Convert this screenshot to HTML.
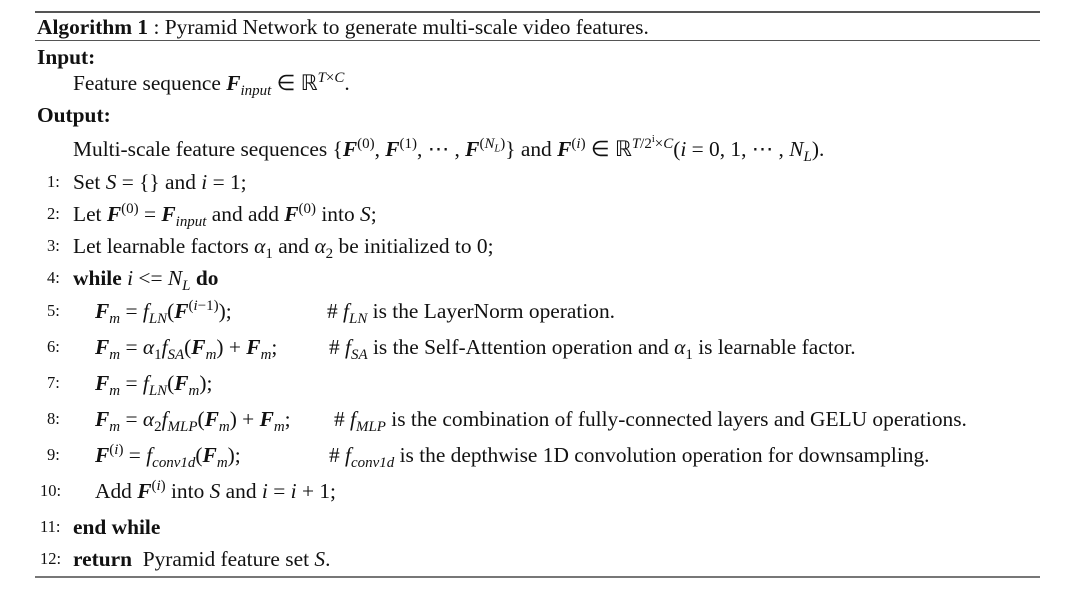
<!DOCTYPE html>
<html><head><meta charset="utf-8"><style>
body{margin:0;width:1080px;height:597px;background:#fff;position:relative;font-family:"Liberation Serif",serif;color:#111;overflow:hidden}
.l{position:absolute;white-space:nowrap;font-size:21.4px;line-height:24px}
.n{position:absolute;font-size:16.5px;line-height:24px;white-space:nowrap}
.hr{position:absolute;left:35px;width:1005px;background:#555}
b{font-weight:bold}
i{font-style:italic}
.F{font-weight:bold;font-style:italic}
sub{font-size:70%;vertical-align:-0.35em;line-height:0}
sup{font-size:70%;vertical-align:0.55em;line-height:0}
</style></head><body>
<div class="hr" style="top:11px;height:2px"></div>
<div class="hr" style="top:40px;height:1px"></div>
<div class="hr" style="top:576px;height:2px;background:#777"></div>
<div class="l" style="left:37px;top:15px"><b>Algorithm 1</b> : Pyramid Network to generate multi-scale video features.</div>
<div class="l" style="left:37px;top:45px"><b>Input:</b></div>
<div class="l" style="left:73px;top:71px">Feature sequence <span class="F">F</span><sub><i>input</i></sub> ∈ ℝ<sup><i>T</i>×<i>C</i></sup>.</div>
<div class="l" style="left:37px;top:103px"><b>Output:</b></div>
<div class="l" style="left:73px;top:137px">Multi-scale feature sequences {<span class="F">F</span><sup>(0)</sup>, <span class="F">F</span><sup>(1)</sup>, ⋯ , <span class="F">F</span><sup>(<i>N<sub>L</sub></i>)</sup>} and <span class="F">F</span><sup>(<i>i</i>)</sup> ∈ ℝ<sup><i>T</i>/2<sup>i</sup>×<i>C</i></sup>(<i>i</i> = 0, 1, ⋯ , <i>N<sub>L</sub></i>).</div>

<div class="n" style="left:47px;top:170px">1:</div><div class="l" style="left:73px;top:170px">Set <i>S</i> = {} and <i>i</i> = 1;</div>
<div class="n" style="left:47px;top:202px">2:</div><div class="l" style="left:73px;top:202px">Let <span class="F">F</span><sup>(0)</sup> = <span class="F">F</span><sub><i>input</i></sub> and add <span class="F">F</span><sup>(0)</sup> into <i>S</i>;</div>
<div class="n" style="left:47px;top:234px">3:</div><div class="l" style="left:73px;top:234px">Let learnable factors <i>α</i><sub>1</sub> and <i>α</i><sub>2</sub> be initialized to 0;</div>
<div class="n" style="left:47px;top:266px">4:</div><div class="l" style="left:73px;top:266px"><b>while</b> <i>i</i> &lt;= <i>N<sub>L</sub></i> <b>do</b></div>

<div class="n" style="left:47px;top:299px">5:</div><div class="l" style="left:95px;top:299px"><span class="F">F</span><sub><i>m</i></sub> = <i>f<sub>LN</sub></i>(<span class="F">F</span><sup>(<i>i</i>−1)</sup>);</div>
<div class="l" style="left:327px;top:299px"># <i>f<sub>LN</sub></i> is the LayerNorm operation.</div>
<div class="n" style="left:47px;top:335px">6:</div><div class="l" style="left:95px;top:335px"><span class="F">F</span><sub><i>m</i></sub> = <i>α</i><sub>1</sub><i>f<sub>SA</sub></i>(<span class="F">F</span><sub><i>m</i></sub>) + <span class="F">F</span><sub><i>m</i></sub>;</div>
<div class="l" style="left:329px;top:335px"># <i>f<sub>SA</sub></i> is the Self-Attention operation and <i>α</i><sub>1</sub> is learnable factor.</div>
<div class="n" style="left:47px;top:371px">7:</div><div class="l" style="left:95px;top:371px"><span class="F">F</span><sub><i>m</i></sub> = <i>f<sub>LN</sub></i>(<span class="F">F</span><sub><i>m</i></sub>);</div>
<div class="n" style="left:47px;top:407px">8:</div><div class="l" style="left:95px;top:407px"><span class="F">F</span><sub><i>m</i></sub> = <i>α</i><sub>2</sub><i>f<sub>MLP</sub></i>(<span class="F">F</span><sub><i>m</i></sub>) + <span class="F">F</span><sub><i>m</i></sub>;</div>
<div class="l" style="left:334px;top:407px"># <i>f<sub>MLP</sub></i> is the combination of fully-connected layers and GELU operations.</div>
<div class="n" style="left:47px;top:443px">9:</div><div class="l" style="left:95px;top:443px"><span class="F">F</span><sup>(<i>i</i>)</sup> = <i>f<sub>conv1d</sub></i>(<span class="F">F</span><sub><i>m</i></sub>);</div>
<div class="l" style="left:329px;top:443px"># <i>f<sub>conv1d</sub></i> is the depthwise 1D convolution operation for downsampling.</div>
<div class="n" style="left:40px;top:479px">10:</div><div class="l" style="left:95px;top:479px">Add <span class="F">F</span><sup>(<i>i</i>)</sup> into <i>S</i> and <i>i</i> = <i>i</i> + 1;</div>
<div class="n" style="left:40px;top:515px">11:</div><div class="l" style="left:73px;top:515px"><b>end while</b></div>
<div class="n" style="left:40px;top:547px">12:</div><div class="l" style="left:73px;top:547px"><b>return</b>&nbsp; Pyramid feature set <i>S</i>.</div>
</body></html>
